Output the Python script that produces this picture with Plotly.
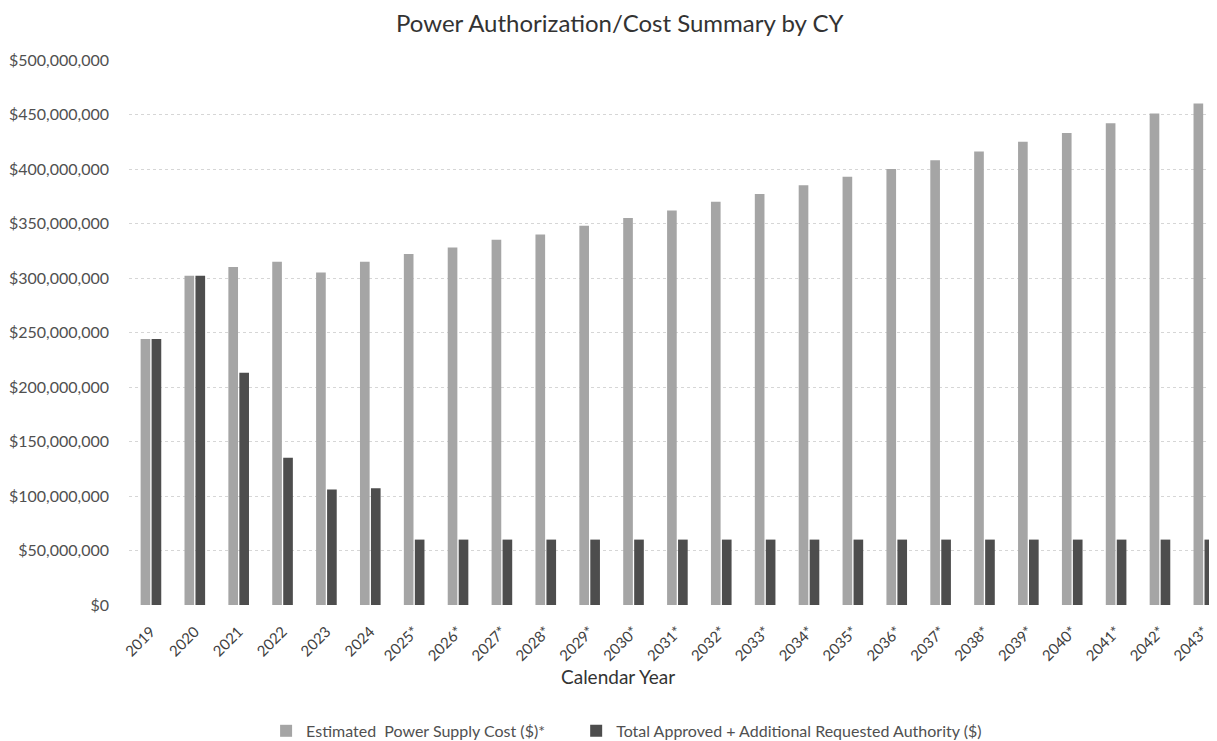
import plotly.graph_objects as go

years = ["2019", "2020", "2021", "2022", "2023", "2024", "2025*", "2026*", "2027*", "2028*",
         "2029*", "2030*", "2031*", "2032*", "2033*", "2034*", "2035*", "2036*", "2037*", "2038*",
         "2039*", "2040*", "2041*", "2042*", "2043*"]
estimated_cost = [244e6, 302e6, 310e6, 315e6, 305e6, 315e6, 322e6, 328e6, 335e6, 340e6,
                  348e6, 355e6, 362e6, 370e6, 377e6, 385e6, 393e6, 400e6, 408e6, 416e6,
                  425e6, 433e6, 442e6, 451e6, 460e6]
approved_authority = [244e6, 302e6, 213e6, 135e6, 106e6, 107e6, 60e6, 60e6, 60e6, 60e6,
                      60e6, 60e6, 60e6, 60e6, 60e6, 60e6, 60e6, 60e6, 60e6, 60e6,
                      60e6, 60e6, 60e6, 60e6, 60e6]
series_names = ["Estimated  Power Supply Cost ($)*",
                "Total Approved + Additional Requested Authority ($)"]
y_ticks = list(range(0, 500_000_001, 50_000_000))

FONT = "Lato, 'Open Sans', sans-serif"
W, H = 1209, 733  # page body has an 8px margin

fig = go.Figure()
fig.add_trace(go.Bar(x=years, y=estimated_cost, name=series_names[0], legend="legend",
                     marker=dict(color="#a5a5a5", line=dict(width=0))))
fig.add_trace(go.Bar(x=years, y=approved_authority, name=series_names[1], legend="legend2",
                     marker=dict(color="#4d4d4d", line=dict(width=0))))

legend_style = dict(orientation="h", xanchor="left", y=-0.231, yanchor="middle",
                    font=dict(family=FONT, size=16, color="#505050"),
                    itemwidth=30, bgcolor="rgba(0,0,0,0)")

fig.update_layout(
    width=W, height=H,
    margin=dict(l=121, r=0, t=52, b=136, autoexpand=False),
    paper_bgcolor="white", plot_bgcolor="white",
    font=dict(family=FONT, color="#505050", size=15),
    title=dict(text="Power Authorization/Cost Summary by CY", x=0.506, xanchor="center",
               y=1 - 16 / H, yanchor="middle",
               font=dict(family=FONT, size=24, color="#333333")),
    barmode="group", bargap=0.5, bargroupgap=0.12,
    showlegend=True,
    legend=dict(x=0.126, **legend_style),
    legend2=dict(x=0.411, **legend_style),
    xaxis=dict(tickangle=-45, showgrid=False, showline=False, ticks="", automargin=False,
               range=[-0.5, 24.3], ticklabelstandoff=14,
               tickfont=dict(family=FONT, size=15, color="#404040")),
    yaxis=dict(range=[0, 500e6], tickvals=y_ticks, tickformat="$,.0f", automargin=False,
               showgrid=True, gridcolor="#d6d6d6", griddash="dot", gridwidth=1,
               zeroline=False, showline=False, ticks="", ticklabelstandoff=19,
               tickfont=dict(family=FONT, size=16, color="#505050")),
    annotations=[dict(text="Calendar Year", xref="paper", yref="paper", x=0.449, y=-0.131,
                      xanchor="center", yanchor="middle", showarrow=False,
                      font=dict(family=FONT, size=19, color="#333333"))],
)

fig.write_html("out.html")
